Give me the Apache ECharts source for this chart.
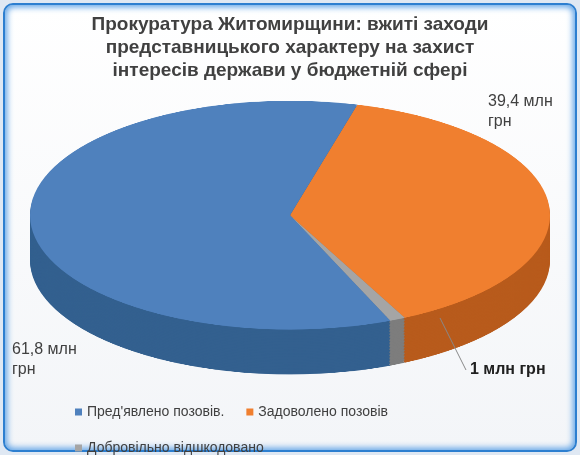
<!DOCTYPE html>
<html><head><meta charset="utf-8">
<script src="https://cdn.jsdelivr.net/npm/echarts@6/dist/echarts.min.js"></script>
<style>
html,body{margin:0;padding:0;width:580px;height:455px;overflow:hidden;background:#dfe8f3;}
#frame{position:absolute;left:3px;top:3px;width:570px;height:445px;border-radius:10px;border:2px solid #2d7fd0;box-shadow:0 0 6px 2px #5aa0e6 inset;background:linear-gradient(#ffffff,#f3f5f8);overflow:hidden;}
#pie{position:absolute;left:0;top:0;width:580px;height:900px;transform:scaleY(0.44);transform-origin:0 0;}
#over{position:absolute;left:0;top:0;width:580px;height:455px;}
</style></head><body>
<div id="frame"></div>
<div id="pie"></div>
<div id="over"></div>
<script>
const categories = ["Задоволено позовів","Добровільно відшкодовано","Пред'явлено позовів."];
const values = [39.4, 1, 61.8];
const labels = ["39,4 млн\nгрн","1 млн грн","61,8 млн\nгрн"];
const legendOrder = ["Пред'явлено позовів.","Задоволено позовів","Добровільно відшкодовано"];
const topColors = ["#f07f2f","#a5a5a5","#4f81bd"];
const sideColors = ["#b85b1c","#7d7d7d","#33608f"];

const pieChart = echarts.init(document.getElementById('pie'));
const series = [];
const depth = 102, steps = 30;
for (let i = steps; i >= 0; i--) {
  const isTop = i === 0;
  series.push({
    type:'pie', radius:260, center:[290, 489 + depth*i/steps], startAngle:75,
    silent:true, animation:false, label:{show:false}, labelLine:{show:false},
    itemStyle:{borderWidth:0},
    data: categories.map((c,k)=>({name:c, value:values[k], itemStyle:{color:(isTop?topColors:sideColors)[k]}}))
  });
}
pieChart.setOption({series});

const overChart = echarts.init(document.getElementById('over'));
const tf = {fontFamily:'Liberation Sans, Arial', color:'#404040'};
overChart.setOption({
  title:{text:"Прокуратура Житомирщини: вжиті заходи\nпредставницького характеру на захист\nінтересів держави у бюджетній сфері",
    left:'center', top:8, textStyle:Object.assign({},tf,{fontSize:19,fontWeight:'bold',lineHeight:23})},
  legend:{data:legendOrder, left:70, top:400, width:460, itemWidth:7, itemHeight:7, icon:'rect', itemGap:22,
    textStyle:Object.assign({},tf,{fontSize:14})},
  series:[{type:'pie', radius:[0,0], center:[-100,-100], label:{show:false}, animation:false,
    data: categories.map((c,k)=>({name:c, value:values[k], itemStyle:{color:topColors[k]}}))}],
  graphic:[
    {type:'text', left:488, top:92, style:{text:labels[0], font:'16px Liberation Sans', fill:'#404040', lineHeight:20}},
    {type:'text', left:470, top:362, style:{text:labels[1], font:'bold 16px Liberation Sans', fill:'#202020'}},
    {type:'text', left:12, top:340, style:{text:labels[2], font:'16px Liberation Sans', fill:'#404040', lineHeight:20}},
    {type:'line', shape:{x1:440,y1:318,x2:466,y2:370}, style:{stroke:'#888', lineWidth:1}}
  ]
});
</script></body></html>
